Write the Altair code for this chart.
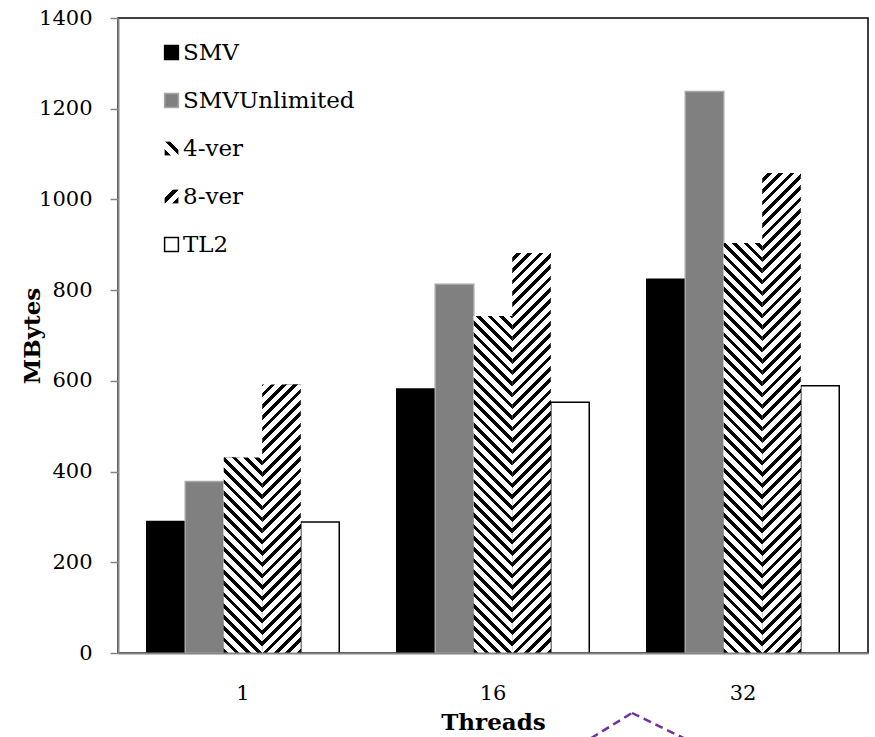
import altair as alt
import pandas as pd

# ---------------- data ----------------
threads = ["1", "16", "32"]
series = ["SMV", "SMVUnlimited", "4-ver", "8-ver", "TL2"]
smv = [290, 582, 824]
smv_unlimited = [378, 813, 1238]
ver4 = [431, 743, 904]
ver8 = [592, 882, 1058]
tl2 = [289, 553, 589]
y_ticks = [0, 200, 400, 600, 800, 1000, 1200, 1400]

rows = []
for s, vals in zip(series, [smv, smv_unlimited, ver4, ver8, tl2]):
    for t, v in zip(threads, vals):
        rows.append({"Threads": t, "series": s, "MBytes": v})
df = pd.DataFrame(rows)

# ---------------- style ----------------
W, H = 750, 635
FONT = "DejaVu Serif"
AXIS_GRAY = "#868686"


def stops(n, frac):
    parts = []
    for k in range(n):
        a, b, c = k / n, (k + frac) / n, (k + 1) / n
        parts += [
            f"{{offset:{a:.5f},color:'#000'}}",
            f"{{offset:{b:.5f},color:'#000'}}",
            f"{{offset:{b:.5f},color:'#fff'}}",
            f"{{offset:{c:.5f},color:'#fff'}}",
        ]
    return "[" + ",".join(parts) + "]"


# striped fills built as linear gradients with hard stops (45 degree stripes)
L = 565
STR = stops(50, 0.42)
hx = "(scale('y',0)-scale('y',datum.MBytes))"
wx = "bandwidth('xOffset')"
den = f"({wx}*{wx}+{hx}*{hx})"
g4 = f"{{gradient:'linear',x1:0,y1:1,x2:{wx}*{L}/{den},y2:1-{hx}*{L}/{den},stops:{STR}}}"
g8 = f"{{gradient:'linear',x1:1,y1:1,x2:1-{wx}*{L}/{den},y2:1-{hx}*{L}/{den},stops:{STR}}}"
fill_expr = f"datum.series=='4-ver'?{g4}:{g8}"

LSTR = stops(2, 0.42)
leg4 = f"{{gradient:'linear',x1:0,y1:1,x2:1,y2:0,stops:{LSTR}}}"
leg8 = f"{{gradient:'linear',x1:1,y1:1,x2:0,y2:0,stops:{LSTR}}}"

fill_range = ["#000000", "#808080", {"expr": leg4}, {"expr": leg8}, "#ffffff"]
stroke_range = ["#000000", "#a6a6a6", "transparent", "transparent", "#000000"]

legend = alt.Legend(
    title=None,
    orient="none",
    legendX=42,
    legendY=23,
    symbolType="square",
    symbolSize=190,
    symbolStrokeWidth=1.5,
    labelFont=FONT,
    labelFontSize=23,
    labelColor="black",
    labelOffset=0,
    labelLimit=0,
    rowPadding=24,
    padding=0,
)

x_enc = alt.X(
    "Threads:N",
    sort=threads,
    scale=alt.Scale(paddingInner=0.23, paddingOuter=0.115),
    axis=alt.Axis(
        title="Threads",
        labelAngle=0,
        ticks=False,
        tickSize=0,
        labelPadding=29,
        titleY=69,
        titleBaseline="middle",
        zindex=1,
    ),
)
xoff_enc = alt.XOffset(
    "series:N", sort=series,
    scale=alt.Scale(domain=series, paddingInner=0, paddingOuter=0),
)
y_enc = alt.Y(
    "MBytes:Q",
    stack=None,
    scale=alt.Scale(domain=[0, 1400], nice=False),
    axis=alt.Axis(
        title="MBytes",
        values=y_ticks,
        format="d",
        grid=False,
        tickSize=8,
        labelPadding=18,
        titleX=-86,
        titleY=H / 2,
        titleAngle=-90,
        titleBaseline="middle",
        zindex=1,
    ),
)

bars = alt.Chart(df).mark_bar(strokeWidth=1.5).encode(
    x=x_enc,
    xOffset=xoff_enc,
    y=y_enc,
    fill=alt.Fill("series:N", sort=series,
                  scale=alt.Scale(domain=series, range=fill_range), legend=legend),
    stroke=alt.Stroke("series:N", sort=series,
                      scale=alt.Scale(domain=series, range=stroke_range), legend=legend),
)

stripes = alt.Chart(df).transform_filter(
    alt.FieldOneOfPredicate(field="series", oneOf=["4-ver", "8-ver"])
).mark_bar(strokeWidth=0).encode(
    x=x_enc,
    xOffset=xoff_enc,
    y=y_enc,
    fill=alt.value({"expr": fill_expr}),
)

caret_df = pd.DataFrame({"a": [0]})
caret_style = dict(color="#7030A0", strokeWidth=2.5, strokeDash=[8, 5], clip=False)
caret_left = alt.Chart(caret_df).mark_rule(**caret_style).encode(
    x=alt.value(462), y=alt.value(727), x2=alt.value(514), y2=alt.value(695)
)
caret_right = alt.Chart(caret_df).mark_rule(**caret_style).encode(
    x=alt.value(514), y=alt.value(695), x2=alt.value(580), y2=alt.value(727)
)

chart = (
    alt.layer(bars, stripes, caret_left, caret_right)
    .properties(
        width=W,
        height=H,
        autosize=alt.AutoSizeParams(type="none"),
        padding={"left": 118, "top": 18, "right": 7, "bottom": 84},
        background="white",
    )
    .configure_view(stroke="black", strokeWidth=1.5)
    .configure_axis(
        domainColor=AXIS_GRAY,
        domainWidth=2,
        tickColor=AXIS_GRAY,
        tickWidth=1.5,
        labelFont=FONT,
        labelFontSize=21,
        labelColor="black",
        titleFont=FONT,
        titleFontSize=23,
        titleFontWeight="bold",
        titleColor="black",
    )
)

chart.save("out.html", embed_options={"renderer": "svg", "actions": False})
